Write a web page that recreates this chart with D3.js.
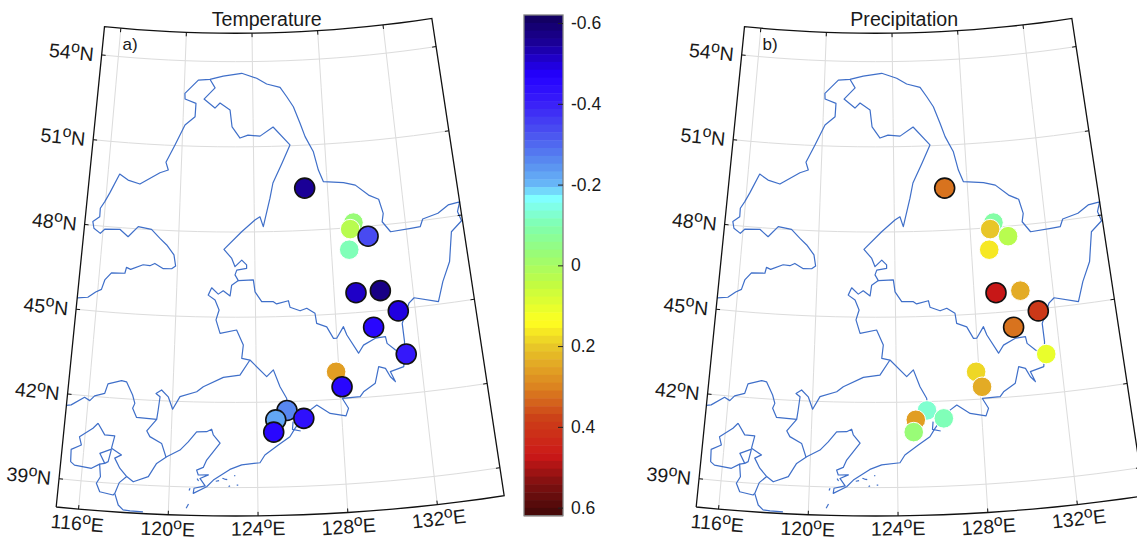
<!DOCTYPE html>
<html><head><meta charset="utf-8">
<script src="https://cdn.jsdelivr.net/npm/d3@7"></script>
<style>html,body{margin:0;padding:0;background:#fff;overflow:hidden}svg{display:block}text{font-family:"Liberation Sans",Arial,sans-serif;fill:#1a1a1a}</style>
</head><body><svg id="c" width="1137" height="540"></svg>
<script>
// ---- data (degrees) ----
const stationLon=[126.76,129.26,129.06,129.97,128.93,129.11,130.35,131.15,129.85,131.32,127.86,128.10,125.43,124.89,126.21,124.78];
const stationLat=[49.49,48.17,47.95,47.65,47.23,45.70,45.70,44.93,44.44,43.39,42.97,42.43,41.69,41.37,41.39,40.94];
const tempCorr=[-0.55,-0.03,0.03,-0.33,-0.10,-0.51,-0.58,-0.50,-0.45,-0.41,0.26,-0.46,-0.27,-0.23,-0.44,-0.46];
const precCorr=[0.31,-0.08,0.20,0.03,0.16,0.47,0.24,0.39,0.31,0.10,0.18,0.24,-0.13,0.26,-0.10,-0.03];
const tempSig=[1,0,0,1,0,1,1,1,1,1,0,1,1,1,1,1];
const precSig=[1,0,0,0,0,1,0,1,1,0,0,0,0,0,0,0];
const latTicks=[39,42,45,48,51,54];
const lonTicks=[116,120,124,128,132];
const cbTicks=[-0.6,-0.4,-0.2,0,0.2,0.4,0.6];
const cbLabels=["-0.6","-0.4","-0.2","0","0.2","0.4","0.6"];
const colorStops=[-0.62,-0.55,-0.47,-0.40,-0.33,-0.25,-0.20,-0.165,-0.10,-0.03,0.05,0.14,0.20,0.30,0.38,0.47,0.54,0.62];
const colorValues=["#12005a","#1a0098","#2400ff","#3a20f8","#4a50f0","#5a90f0","#68b8f8","#80ffff","#80ffb0","#98fc78","#c4fc40","#ffff20","#e8c828","#dc8420","#cc4018","#cc1818","#801010","#400808"];
const outerBorder=[[115,45.40],[115.53,45.46],[115.90,45.67],[116.18,45.78],[116.31,46.12],[116.62,46.39],[117.31,46.41],[117.37,46.62],[117.59,46.56],[118.22,46.75],[118.57,46.73],[118.82,46.82],[119.27,46.65],[119.70,46.66],[119.90,46.76],[119.79,47.15],[119.39,47.49],[119.02,47.71],[118.55,48.01],[117.84,48.08],[117.34,47.70],[116.88,47.94],[116.08,47.90],[115.87,47.74],[115.51,47.90],[115.42,48.13],[115.76,48.32],[115.75,48.62],[115.95,48.86],[116.18,49.18],[116.64,49.88],[117.12,49.69],[117.78,49.58],[118.84,50.02],[119.29,50.13],[119.14,50.40],[119.60,51.02],[120.12,51.74],[120.68,52.04],[120.71,52.51],[120.07,52.65],[120.05,52.85],[120.81,53.33],[121.49,53.37],[122.27,53.49],[123.36,53.59],[124.24,53.41],[124.82,53.20],[125.60,53.07],[125.97,52.73],[126.33,52.37],[126.67,51.78],[126.92,51.30],[127.34,50.75],[127.56,50.10],[127.80,49.68],[128.89,49.60],[129.52,49.48],[130.19,49.09],[130.71,48.91],[130.88,48.40],[130.78,48.11],[131.17,47.73],[132.25,47.77],[132.75,47.79],[132.93,48.05],[133.77,48.18],[134.37,48.42],[135,48.47],[134.81,48.14],[134.95,47.80],[134.34,47.47],[134.03,46.44],[133.55,45.77],[133.20,45.09],[132.01,45.33],[131.72,45.16],[131.28,44.48],[131.30,43.83],[131.14,42.96],[130.47,42.83],[130.67,42.46],[130.45,42.65],[130.25,42.96],[129.93,43.04],[129.70,42.47],[129.11,42.20],[128.93,42.04],[128.08,42.02],[128.34,41.66],[128.20,41.40],[127.46,41.52],[126.85,41.84],[126.52,41.67],[126.18,41.44],[125.78,41.05],[125.53,40.76],[124.98,40.48],[124.35,40.14],[124.12,39.87],[123.28,39.80],[122.74,39.64],[121.99,39.26],[121.69,39.02],[121.09,38.78],[121.12,38.96],[121.62,39.05],[121.38,39.31],[121.76,39.44],[121.30,39.43],[121.22,39.60],[121.52,39.70],[121.67,39.96],[122.28,40.56],[121.96,40.85],[121.88,41.05],[121.65,40.96],[121.18,40.95],[120.80,40.59],[120.43,40.29],[119.83,40.04],[119.38,39.79],[119.03,39.31],[118.36,39.10],[118.05,39.27],[117.73,39.04],[117.56,38.65],[117.75,38.25],[117.98,38.09],[118.29,38.07],[118.87,38.06]];
const heilongBorder=[[121.49,53.37],[121.80,53.07],[121.17,52.67],[121.81,52.36],[122.10,52.54],[122.68,52.30],[122.80,51.70],[123.25,51.31],[123.70,51.41],[124.38,51.37],[125.13,51.68],[126.05,51.03],[125.57,50.40],[125.04,49.71],[124.86,49.18],[124.47,48.18],[124.30,48.53],[124.03,48.42],[123.32,48.01],[122.39,47.39],[122.80,47.07],[122.97,46.78],[123.32,47.01],[123.57,46.84],[123.57,46.72],[123.06,46.66],[122.97,46.49],[123.14,46.29],[123.91,46.31],[123.99,45.89],[124.32,45.54],[124.91,45.53],[125.07,45.45],[125.67,45.55],[125.74,45.32],[126.24,45.18],[126.58,45.26],[126.98,45.07],[127.04,44.71],[127.53,44.57],[127.83,44.15],[127.99,44.15],[128.36,44.54],[128.50,44.24],[129.01,43.57],[129.28,43.84],[129.89,44.05],[130.39,44.07],[130.44,43.83],[130.82,43.57],[131.23,43.36]];
const jilinBorder=[[123.14,46.29],[122.80,46.13],[122.72,45.75],[122.37,45.93],[122.12,45.81],[121.78,46.03],[121.61,45.77],[121.96,45.60],[122.17,45.25],[122.02,44.90],[122.23,44.43],[123.05,44.55],[123.38,44.02],[123.30,43.55],[123.70,43.49],[124.50,42.90],[124.83,43.13],[125.13,42.53],[125.43,42.12],[125.46,41.92]];
const liaoningBorder=[[123.70,43.49],[123.21,42.96],[122.41,42.88],[121.45,42.54],[121.14,42.36],[120.35,42.17],[120.02,41.72],[119.79,42.15],[119.46,42.38],[119.20,42.25],[119.40,42.14],[119.34,41.67],[119.29,41.34],[118.85,40.92],[119.01,40.72],[119.57,40.50],[119.80,40.02]];
const hebeiNorth=[[115,41.60],[115.22,41.63],[115.82,41.94],[116.08,41.84],[116.29,42.02],[116.76,42.14],[116.88,42.48],[117.52,42.63],[117.76,42.60],[118.09,42.15],[118.22,41.86],[118.13,41.68],[118.34,41.37],[119.29,41.34]];
const hebeiLoop=[[116.56,41.07],[116.34,40.88],[115.75,40.54],[115.87,40.26],[115.42,40.07],[115.45,39.64],[115.64,39.53],[116.42,39.47],[116.78,39.64],[116.86,39.20],[116.70,38.96],[116.88,38.67],[117.49,38.59],[117.56,38.65]];
const beijingEast=[[116.56,41.07],[116.91,40.68],[117.38,40.67],[117.27,40.23],[117.75,40.02],[117.45,39.89],[117.71,39.55],[118.05,39.27]];
const tianjinBox=[[117.27,40.20],[116.75,40.02],[117.01,39.68],[117.16,39.75],[117.27,40.20]];
const tianjinLink=[[116.78,39.64],[117.01,39.68]];
const yaluBit=[[125.70,41.29],[125.66,41.02],[126.04,40.95]];
const islands=[[[122.40,39.33],[122.50,39.30],[122.62,39.28]],[[120.94,38.96],[120.90,38.88]],[[120.89,38.40],[120.79,38.25]],[[122.97,39.44],[122.95,39.40]],[[123.12,39.09],[123.05,39.09]],[[122.75,39.06],[122.68,39.04]],[[122.10,39.22],[122.25,39.24]],[[121.25,39.30],[121.32,39.22]]];

// ---- map ----
const projection=d3.geoConicEquidistant().parallels([40,52]).rotate([-123,0]).center([0,38]).scale(1627).translate([235.6,516]).precision(0.2);
const geoPath=d3.geoPath(projection);
const segs=(a)=>({type:"LineString",coordinates:a});
const svg=d3.select("#c");
const n=0.7178;
function sampled(f,a,b,step){const o=[];for(let v=a;v<b;v+=step)o.push(f(v));o.push(f(b));return o;}

const color=d3.scaleLinear().domain(colorStops).range(colorValues).interpolate(d3.interpolateRgb);
const levels=d3.range(64).map(i=>color(-0.62+(i+0.5)*1.24/64));
const quant=d3.scaleQuantize().domain([-0.62,0.62]).range(levels);

function panel(g,title,titleX,tag,vals,sig){
  const grat=g.append("g").attr("fill","none").attr("stroke","#dcdcdc").attr("stroke-width",1);
  latTicks.forEach(la=>grat.append("path").attr("d",geoPath(segs(sampled(l=>[l,la],115,135,1)))));
  lonTicks.forEach(lo=>grat.append("path").attr("d",geoPath(segs(sampled(l=>[lo,l],38,55,1)))));
  const bd=g.append("g").attr("fill","none").attr("stroke","#3f6fc9").attr("stroke-width",1.2).attr("stroke-linejoin","round");
  [outerBorder,heilongBorder,jilinBorder,liaoningBorder,hebeiNorth,hebeiLoop,beijingEast,tianjinBox,tianjinLink,yaluBit,...islands].forEach(a=>bd.append("path").attr("d",geoPath(segs(a))));
  const frame=sampled(l=>[l,38],115,135,1).concat(sampled(l=>[135,l],38,55,1),sampled(l=>[135-(l-115),55],115,135,1),sampled(l=>[115,55-(l-38)],38,55,1));
  g.append("path").attr("d",geoPath(segs(frame))).attr("fill","none").attr("stroke","#111").attr("stroke-width",1.3);
  const tk=g.append("g").attr("stroke","#111").attr("stroke-width",1).attr("fill","none");
  const tl=4;
  lonTicks.forEach(lo=>{
    const a=(lo-123)*n*Math.PI/180;
    [[38,-1],[55,1]].forEach(([la,s])=>{const p=projection([lo,la]);
      tk.append("line").attr("x1",p[0]).attr("y1",p[1]).attr("x2",p[0]+s*tl*Math.sin(a)).attr("y2",p[1]+s*tl*Math.cos(a));});
    const p=projection([lo,38]);
    const t=g.append("text").attr("transform",`translate(${p[0]},${p[1]}) rotate(${-a*180/Math.PI})`).attr("y",lo===124?19.5:21).attr("text-anchor","middle").attr("font-size",19.5);
    t.append("tspan").text(lo);t.append("tspan").text("o").attr("font-size",16).attr("dy",-7);t.append("tspan").text("E").attr("dy",7);
  });
  latTicks.forEach(la=>{
    const a1=(115-123)*n*Math.PI/180,a2=(135-123)*n*Math.PI/180;
    const p=projection([115,la]),q=projection([135,la]);
    tk.append("line").attr("x1",p[0]).attr("y1",p[1]).attr("x2",p[0]+tl*Math.cos(a1)).attr("y2",p[1]-tl*Math.sin(a1));
    tk.append("line").attr("x1",q[0]).attr("y1",q[1]).attr("x2",q[0]-tl*Math.cos(a2)).attr("y2",q[1]+tl*Math.sin(a2));
    const t=g.append("text").attr("transform",`translate(${p[0]},${p[1]}) rotate(${-a1*180/Math.PI})`).attr("x",-8).attr("y",7).attr("text-anchor","end").attr("font-size",19.5);
    t.append("tspan").text(la);t.append("tspan").text("o").attr("font-size",16).attr("dy",-7);t.append("tspan").text("N").attr("dy",7);
  });
  g.append("text").attr("x",titleX).attr("y",26).attr("text-anchor","middle").attr("font-size",19.6).text(title);
  g.append("text").attr("x",122.5).attr("y",50).attr("font-size",17).text(tag);
  g.append("g").selectAll("circle").data(stationLon).join("circle")
    .attr("cx",(d,i)=>projection([d,stationLat[i]])[0])
    .attr("cy",(d,i)=>projection([d,stationLat[i]])[1])
    .attr("r",(d,i)=>sig[i]?10:9.8)
    .attr("fill",(d,i)=>quant(vals[i]))
    .attr("stroke",(d,i)=>sig[i]?"#111":"#fff")
    .attr("stroke-width",(d,i)=>sig[i]?1.6:1);
}
panel(svg.append("g"),"Temperature",266.7,"a)",tempCorr,tempSig);
panel(svg.append("g").attr("transform","translate(640,0)"),"Precipitation",264.2,"b)",precCorr,precSig);

// ---- colorbar ----
const cbY=d3.scaleLinear().domain([-0.62,0.62]).range([15,515.7]);
const cbX=[524,563];
const cb=svg.append("g");
cb.selectAll("rect").data(levels).join("rect")
  .attr("x",cbX[0]).attr("width",cbX[1]-cbX[0])
  .attr("y",(d,i)=>cbY(-0.62+i*1.24/64)).attr("height",(515.7-15)/64+0.5).attr("fill",d=>d);
cb.append("rect").attr("x",cbX[0]).attr("y",15).attr("width",cbX[1]-cbX[0]).attr("height",500.7).attr("fill","none").attr("stroke","#808080").attr("stroke-width",1.3);
const ax=cb.append("g").attr("transform",`translate(${cbX[1]},0)`).call(d3.axisRight(cbY).tickValues(cbTicks).tickSize(-5).tickPadding(8).tickFormat((d,i)=>cbLabels[i]));
ax.select(".domain").remove();
ax.selectAll("line").attr("stroke","#222");
ax.selectAll("text").attr("font-size",17.5).attr("font-family",'"Liberation Sans",Arial,sans-serif').style("fill","#1a1a1a");
</script></body></html>
